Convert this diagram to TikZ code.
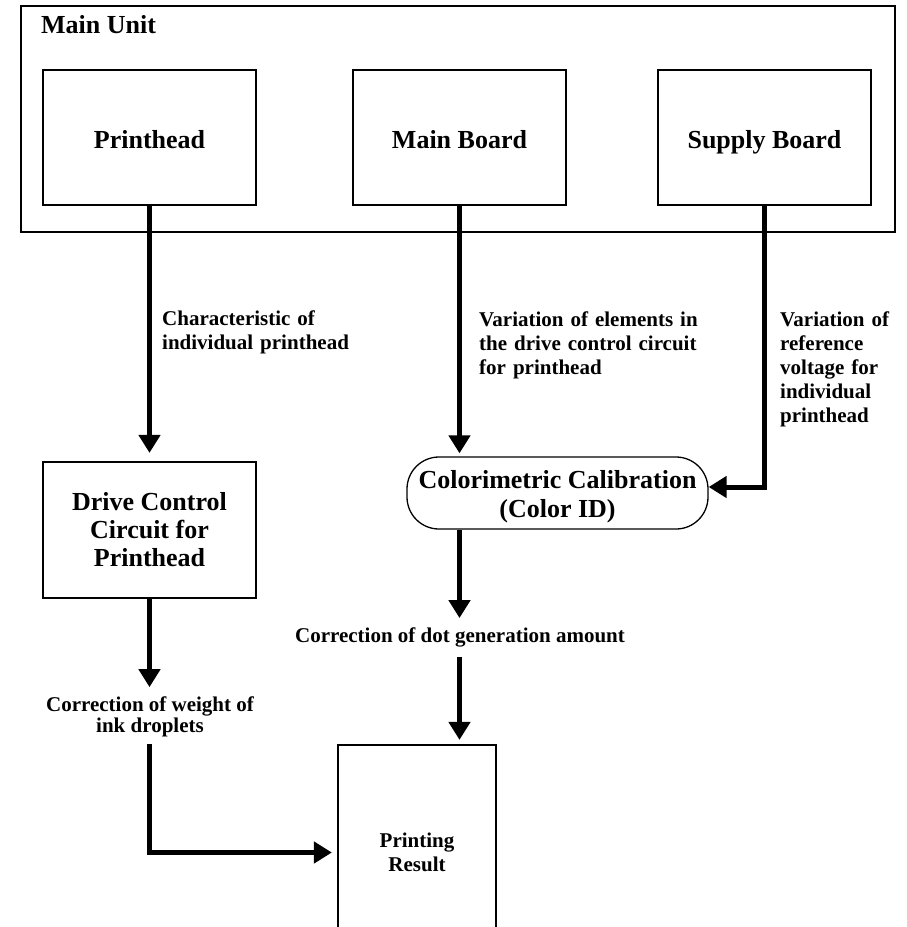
\documentclass[tikz,border=0pt]{standalone}
\usepackage{fontspec}
\setmainfont{Liberation Serif}
\usetikzlibrary{arrows.meta}

\begin{document}
\begin{tikzpicture}[x=1pt,y=-1pt,
  blockbox/.style={draw, line width=2.2pt, inner sep=0pt, minimum width=213pt,
    align=center, font=\bfseries\fontsize{26}{28}\selectfont},
  unitbox/.style={blockbox, minimum height=135pt, text height=21pt, text depth=0pt},
  flow/.style={line width=5pt, -{Triangle[length=18pt,width=21pt]}},
  note/.style={inner sep=0pt, font=\bfseries\fontsize{21}{24}\selectfont, align=left,
    text width=230pt, anchor=base west},
  midnote/.style={inner sep=0pt, font=\bfseries\fontsize{21}{21}\selectfont, align=center}
]
\clip (0,0) rectangle (906,927);
\fill[white] (0,0) rectangle (906,927);

% main unit enclosure
\node[draw, line width=2.2pt, inner sep=0pt, minimum width=874pt, minimum height=226pt,
  anchor=north west] (mainunit) at (20,5) {};
\node[anchor=base west, inner sep=0pt, font=\bfseries\fontsize{26}{28}\selectfont] (mainlbl) at (41,33) {Main Unit};

% units inside
\node[unitbox] (printhead) at (149.5,137.5) {Printhead};
\node[unitbox] (mainboard) at (459.5,137.5) {Main Board};
\node[unitbox] (supply) at (764.5,137.5) {Supply Board};

% processing blocks
\node[blockbox, minimum height=136pt] (drive) at (149.5,530) {Drive Control\\Circuit for\\Printhead};
\node[draw, line width=1.3pt, rounded corners=32pt, inner sep=0pt, minimum width=301pt, minimum height=72pt,
  align=center, font=\bfseries\fontsize{26}{29}\selectfont] (colorcal) at (557.5,493)
  {\rule{0pt}{25pt}Colorimetric Calibration\\(Color ID)};
\node[draw, line width=2.2pt, inner sep=0pt, minimum width=158pt, minimum height=215pt,
  align=center, font=\bfseries\fontsize{21}{24}\selectfont] (printres) at (417,852.5) {Printing\\Result};

% labels along the connectors
\node[note] (lblchar) at (162,325) {Characteristic of\\individual printhead};
\node[note] (lblvar) at (479,326) {Variation of elements in\\the drive control circuit\\for printhead};
\node[note] (lblref) at (780,326) {Variation of\\reference\\voltage for\\individual\\printhead};
\node[midnote] (wlbl) at (150,716.5) {Correction of weight of\\ink droplets};
\node[midnote] (dotlbl) at (460,637) {Correction of dot generation amount};

% connectors
\draw[flow, shorten >=8pt] (printhead.south) -- (drive.north);
\draw[flow, shorten >=3pt] (mainboard.south) -- (mainboard.south |- colorcal.north);
\draw[flow] (supply.south) |- ([yshift=6pt]colorcal.east);
\draw[flow, shorten >=9pt] (drive.south) -- (drive.south |- wlbl.north);
\draw[flow, shorten <=7pt, shorten >=5pt] (wlbl.south -| drive.south) |- (printres.west);
\draw[flow, shorten >=9pt] (colorcal.south -| mainboard.south) -- (dotlbl.north -| mainboard.south);
\draw[flow, shorten <=10pt, shorten >=4pt] (dotlbl.south -| mainboard.south) -- (printres.north -| mainboard.south);
\end{tikzpicture}
\end{document}
